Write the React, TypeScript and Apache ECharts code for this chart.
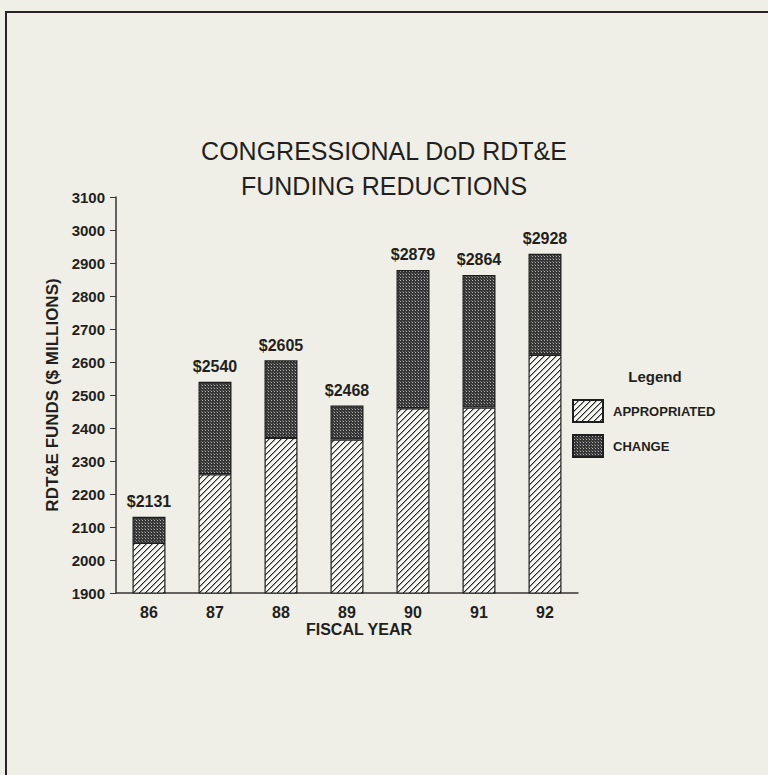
import React, { useEffect, useRef } from "react";
import * as echarts from "echarts";

const categories = ["86", "87", "88", "89", "90", "91", "92"];
const appropriated = [2052, 2260, 2370, 2365, 2460, 2462, 2622];
const change = [79, 280, 235, 103, 419, 402, 306];
const totals = [2131, 2540, 2605, 2468, 2879, 2864, 2928];
const yTicks = { min: 1900, max: 3100, interval: 100 };

function hatchPattern(): HTMLCanvasElement {
  const n = 6;
  const c = document.createElement("canvas");
  c.width = n;
  c.height = n;
  const g = c.getContext("2d")!;
  g.fillStyle = "#f7f7f2";
  g.fillRect(0, 0, n, n);
  for (let i = 0; i < n; i++) {
    g.fillStyle = "#2a2a2a";
    g.fillRect(i, n - 1 - i, 1, 1);
    g.fillStyle = "#9a9a9a";
    g.fillRect((i + 1) % n, n - 1 - i, 1, 1);
  }
  return c;
}

function crossPattern(): HTMLCanvasElement {
  const c = document.createElement("canvas");
  c.width = 3;
  c.height = 3;
  const g = c.getContext("2d")!;
  g.fillStyle = "#363636";
  g.fillRect(0, 0, 3, 3);
  g.fillStyle = "#b0b0b0";
  g.fillRect(1, 1, 1, 1);
  g.fillStyle = "#707070";
  g.fillRect(0, 0, 1, 1);
  return c;
}

export default function App() {
  const ref = useRef<HTMLDivElement>(null);
  useEffect(() => {
    if (!ref.current) return;
    const chart = echarts.init(ref.current, null, { renderer: "svg" });
    const textColor = "#231f20";
    const font = "'Liberation Sans', Arial, Helvetica, sans-serif";
    chart.setOption({
      animation: false,
      backgroundColor: "#efefe7",
      textStyle: { fontFamily: font, color: textColor },
      grid: { left: 116, top: 197, width: 462, height: 396, containLabel: false },
      graphic: [
        { type: "line", shape: { x1: 5, y1: 12, x2: 768, y2: 12 }, style: { stroke: "#2b2225", lineWidth: 2 } },
        { type: "line", shape: { x1: 6, y1: 12, x2: 6, y2: 775 }, style: { stroke: "#2b2225", lineWidth: 2 } },
        {
          type: "text", x: 384, y: 151,
          style: { text: "CONGRESSIONAL DoD RDT&E", fill: textColor, font: `25px ${font}`, align: "center", verticalAlign: "middle" },
        },
        {
          type: "text", x: 384, y: 186,
          style: { text: "FUNDING REDUCTIONS", fill: textColor, font: `25px ${font}`, align: "center", verticalAlign: "middle" },
        },
        {
          type: "text", x: 655, y: 376,
          style: { text: "Legend", fill: textColor, font: `bold 15px ${font}`, align: "center", verticalAlign: "middle" },
        },
        {
          type: "text", x: 359, y: 629,
          style: { text: "FISCAL YEAR", fill: textColor, font: `bold 16px ${font}`, align: "center", verticalAlign: "middle" },
        },
      ],
      legend: {
        orient: "vertical",
        left: 572,
        top: 399,
        padding: 0,
        itemWidth: 30,
        itemHeight: 22,
        itemGap: 11,
        icon: "rect",
        textStyle: { fontSize: 13, fontWeight: "bold", color: textColor, fontFamily: font, padding: [0, 0, 0, 5] },
        data: ["APPROPRIATED", "CHANGE"],
      },
      xAxis: {
        type: "category",
        data: categories,
        axisLine: { lineStyle: { color: "#3a3535", width: 1.5 } },
        axisTick: { alignWithLabel: true, length: 4, lineStyle: { color: "#999" } },
        axisLabel: { fontSize: 16, fontWeight: "bold", color: textColor, margin: 11 },
      },
      yAxis: {
        type: "value",
        min: yTicks.min,
        max: yTicks.max,
        interval: yTicks.interval,
        name: "RDT&E FUNDS ($ MILLIONS)",
        nameLocation: "middle",
        nameGap: 48,
        nameTextStyle: { fontSize: 17, fontWeight: "bold", color: textColor },
        axisLine: { show: true, lineStyle: { color: "#3a3535", width: 1.5 } },
        axisTick: { show: true, length: 6, lineStyle: { color: "#3a3535" } },
        splitLine: { show: false },
        axisLabel: {
          fontSize: 15,
          fontWeight: "bold",
          color: textColor,
          margin: 11,
          formatter: (v: number) => String(v),
        },
      },
      series: [
        {
          name: "APPROPRIATED",
          type: "bar",
          stack: "total",
          barWidth: 33,
          data: appropriated,
          itemStyle: {
            color: { image: hatchPattern(), repeat: "repeat" },
            borderColor: "#1e1e1e",
            borderWidth: 1.2,
          },
        },
        {
          name: "CHANGE",
          type: "bar",
          stack: "total",
          barWidth: 33,
          data: change,
          itemStyle: {
            color: { image: crossPattern(), repeat: "repeat" },
            borderColor: "#1e1e1e",
            borderWidth: 1.2,
          },
          label: {
            show: true,
            position: "top",
            distance: 7,
            fontSize: 16,
            fontWeight: "bold",
            color: textColor,
            formatter: (p: any) => `$${totals[p.dataIndex]}`,
          },
        },
      ],
    });
    return () => chart.dispose();
  }, []);
  return (
    <div
      ref={ref}
      style={{ position: "fixed", left: 0, top: 0, width: 768, height: 775 }}
    />
  );
}
